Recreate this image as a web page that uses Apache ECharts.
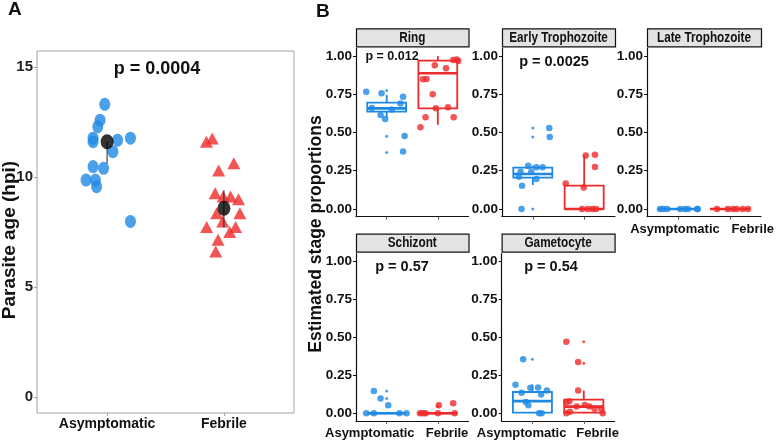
<!DOCTYPE html>
<html><head><meta charset="utf-8">
<script src="https://cdn.jsdelivr.net/npm/echarts@6/dist/echarts.min.js"></script>
<style>html,body{margin:0;padding:0;background:#fff}#c{width:777px;height:442px}</style>
</head><body><div id="c"></div>
<script>
// ---------- DATA ----------
const groups = ['Asymptomatic', 'Febrile'];
const stages = ['Ring', 'Early Trophozoite', 'Late Trophozoite', 'Schizont', 'Gametocyte'];
const pValues = ['p = 0.012', 'p = 0.0025', '', 'p = 0.57', 'p = 0.54'];
const pAge = 'p = 0.0004';
const ageTicks = [0, 5, 10, 15];
const propTicks = [0, 0.25, 0.5, 0.75, 1];

// Panel A: parasite age (hpi), with horizontal jitter offsets
const ageAsymValues = [13.3, 12.58, 12.28, 11.76, 11.6, 11.67, 11.76, 11.15, 10.47, 10.39, 9.86, 9.86, 9.56, 7.98];
const ageAsymJitter = [-0.02, -0.06, -0.08, -0.12, -0.12, 0.09, 0.20, 0.05, -0.12, -0.03, -0.18, -0.10, -0.09, 0.20];
const ageFebValues = [11.6, 11.75, 10.62, 10.29, 9.26, 9.11, 8.99, 9.11, 8.35, 8.35, 7.98, 7.73, 7.73, 7.5, 7.15, 6.62];
const ageFebJitter = [-0.15, -0.10, 0.085, -0.045, -0.075, 0.057, 0.125, -0.006, -0.062, 0.137, -0.01, -0.148, 0.10, 0.05, -0.05, -0.07];
const ageMeans = [11.6, 8.58];
const ageErrLow = [10.6, 7.7];
const ageErrHigh = [11.6, 9.4];

// Panel B: boxes are [lowWhisker, q1, median, q3, highWhisker]
const ringAsymValues = [0.767, 0.756, 0.734, 0.69, 0.66, 0.65, 0.614, 0.588, 0.477, 0.375];
const ringAsymJitter = [-0.40, -0.10, 0.32, 0.27, -0.29, 0.10, -0.12, -0.03, 0.35, 0.32];
const ringAsymOutliers = [0.775, 0.475, 0.37];
const ringAsymBox = [0.60, 0.636, 0.658, 0.695, 0.745];
const ringFebValues = [0.848, 0.85, 0.94, 0.92, 0.974, 0.978, 0.967, 0.75, 0.658, 0.665, 0.60, 0.60, 0.534];
const ringFebJitter = [-0.29, -0.22, -0.06, 0.16, 0.30, 0.37, 0.40, -0.10, -0.04, 0.20, 0.31, -0.24, -0.34];
const ringFebOutliers = [];
const ringFebBox = [0.55, 0.658, 0.887, 0.97, 1.0];

const earlyAsymValues = [0.53, 0.47, 0.0, 0.152, 0.21, 0.283, 0.272, 0.272, 0.244, 0.196, 0.244];
const earlyAsymJitter = [0.32, 0.33, -0.22, -0.21, -0.27, -0.09, 0.07, 0.19, -0.03, 0.07, -0.24];
const earlyAsymOutliers = [0.53, 0.47, 0.0];
const earlyAsymBox = [0.157, 0.205, 0.229, 0.27, 0.283];
const earlyFebValues = [0.167, 0.14, 0.35, 0.355, 0.275, 0, 0, 0, 0];
const earlyFebJitter = [-0.36, -0.01, 0.03, 0.21, 0.21, -0.04, 0.07, 0.16, 0.23];
const earlyFebOutliers = [];
const earlyFebBox = [0, 0, 0, 0.152, 0.35];

const lateAsymValues = [0, 0, 0, 0, 0, 0, 0, 0];
const lateAsymJitter = [-0.35, -0.29, -0.21, 0.04, 0.13, 0.19, 0.37, 0.38];
const lateAsymOutliers = [];
const lateAsymBox = [0, 0, 0, 0, 0];
const lateFebValues = [0, 0, 0, 0, 0, 0];
const lateFebJitter = [-0.25, -0.04, 0.06, 0.13, 0.25, 0.35];
const lateFebOutliers = [0];
const lateFebBox = [0, 0, 0, 0, 0];

const schAsymValues = [0.147, 0.097, 0.053, 0, 0, 0, 0];
const schAsymJitter = [-0.25, -0.12, 0.03, -0.25, 0.25, 0.39, -0.40];
const schAsymOutliers = [0.147, 0.097];
const schAsymBox = [0, 0, 0, 0, 0];
const schFebValues = [0.053, 0.066, 0, 0, 0, 0, 0];
const schFebJitter = [0.02, 0.30, -0.35, -0.29, -0.24, 0.0, 0.33];
const schFebOutliers = [0.045];
const schFebBox = [0, 0, 0, 0, 0];

const gamAsymValues = [0.355, 0.188, 0.168, 0.17, 0.135, 0.053, 0.075, 0.123, 0, 0, 0.15];
const gamAsymJitter = [-0.18, -0.33, -0.04, 0.11, -0.21, -0.08, -0.13, 0.17, 0.13, 0.18, 0.28];
const gamAsymOutliers = [0.355];
const gamAsymBox = [0, 0.005, 0.08, 0.14, 0.19];
const gamFebValues = [0.47, 0.337, 0.15, 0.074, 0.08, 0.044, 0.055, 0.044, 0.03, 0, 0.01, 0.03, 0];
const gamFebJitter = [-0.34, -0.11, -0.11, -0.34, -0.28, -0.14, 0.02, 0.11, 0.21, -0.34, -0.27, 0.34, 0.37];
const gamFebOutliers = [0.47, 0.33];
const gamFebBox = [0, 0.005, 0.044, 0.09, 0.15];

// ---------- STYLE / LAYOUT ----------
const groupColors = ['#1e88e5', '#ee2b2b'];
const FR = '"Liberation Sans", Arial, sans-serif';
const gridA = {left: 37, top: 51, width: 257, height: 362};
const stageGrids = [
  {left: 356, top: 48.4, width: 112.5, height: 168.2},
  {left: 502, top: 48.4, width: 113, height: 168.2},
  {left: 647, top: 48.4, width: 114, height: 168.2},
  {left: 356, top: 253.7, width: 112.5, height: 167.2},
  {left: 501.6, top: 253.7, width: 113, height: 167.2}
];
// label positions (x units) for the x-axis category text; null = no labels
const stageLabelPos = [null, null, [0.94, 2.44], [0.67, 2.18], [0.79, 2.27]];
const pPos = [[392, 57], [554, 62], null, [402, 267], [551, 267]];

const stageData = [
  [ringAsymValues, ringAsymJitter, ringAsymOutliers, ringAsymBox, ringFebValues, ringFebJitter, ringFebOutliers, ringFebBox],
  [earlyAsymValues, earlyAsymJitter, earlyAsymOutliers, earlyAsymBox, earlyFebValues, earlyFebJitter, earlyFebOutliers, earlyFebBox],
  [lateAsymValues, lateAsymJitter, lateAsymOutliers, lateAsymBox, lateFebValues, lateFebJitter, lateFebOutliers, lateFebBox],
  [schAsymValues, schAsymJitter, schAsymOutliers, schAsymBox, schFebValues, schFebJitter, schFebOutliers, schFebBox],
  [gamAsymValues, gamAsymJitter, gamAsymOutliers, gamAsymBox, gamFebValues, gamFebJitter, gamFebOutliers, gamFebBox]
];

const grids = [Object.assign({show: true, borderColor: '#a0a0a0', borderWidth: 1}, gridA)]
  .concat(stageGrids.map(g => Object.assign({}, g)));

const xAxes = [], yAxes = [], series = [], graphics = [];

// Panel A axes
xAxes.push({
  type: 'value', gridIndex: 0, min: 0.4, max: 2.6,
  splitLine: {show: false},
  axisLine: {show: false, onZero: false},
  axisTick: {show: true, customValues: [1, 2], length: 3, lineStyle: {color: '#a0a0a0'}},
  axisLabel: {customValues: [1, 2], formatter: v => groups[Math.round(v) - 1], margin: 4,
    hideOverlap: false, showMinLabel: true, showMaxLabel: true,
    fontFamily: FR, fontWeight: 'bold', fontSize: 14, color: '#111'}
});
yAxes.push({
  type: 'value', gridIndex: 0, min: -0.72, max: 15.72,
  splitLine: {show: false},
  axisLine: {show: false, onZero: false},
  axisTick: {show: true, customValues: ageTicks, length: 3, lineStyle: {color: '#a0a0a0'}},
  axisLabel: {customValues: ageTicks, margin: 4, fontFamily: FR, fontWeight: 'bold', fontSize: 15, color: '#222'}
});

// Panel A series
series.push({
  type: 'scatter', xAxisIndex: 0, yAxisIndex: 0, symbol: 'circle', symbolSize: [11, 13],
  itemStyle: {color: groupColors[0]},
  data: ageAsymValues.map((v, i) => [1 + ageAsymJitter[i], v])
});
series.push({
  type: 'scatter', xAxisIndex: 0, yAxisIndex: 0, symbol: 'triangle', symbolSize: [13, 12],
  itemStyle: {color: groupColors[1]},
  data: ageFebValues.map((v, i) => [2 + ageFebJitter[i], v])
});
series.push({
  type: 'custom', xAxisIndex: 0, yAxisIndex: 0, z: 5,
  data: ageMeans.map((m, i) => [i + 1, ageErrLow[i], ageErrHigh[i]]),
  renderItem: (params, api) => {
    const a = api.coord([api.value(0), api.value(1)]);
    const b = api.coord([api.value(0), api.value(2)]);
    return {type: 'line', shape: {x1: a[0], y1: a[1], x2: b[0], y2: b[1]}, style: {stroke: '#222', lineWidth: 1}};
  }
});
series.push({
  type: 'scatter', xAxisIndex: 0, yAxisIndex: 0, symbol: 'circle', symbolSize: [13, 15], z: 6,
  itemStyle: {color: '#000'},
  data: ageMeans.map((m, i) => [i + 1, m])
});

function renderBox(params, api) {
  const x = api.value(0), lo = api.value(1), q1 = api.value(2), med = api.value(3), q3 = api.value(4), hi = api.value(5);
  const hw = 0.38;
  const c = groupColors[params.dataIndex];
  const tl = api.coord([x - hw, q3]), br = api.coord([x + hw, q1]);
  const m1 = api.coord([x - hw, med]), m2 = api.coord([x + hw, med]);
  const pHi = api.coord([x, hi]), pQ3 = api.coord([x, q3]), pQ1 = api.coord([x, q1]), pLo = api.coord([x, lo]);
  const ls = {stroke: c, lineWidth: 1.8};
  return {type: 'group', children: [
    {type: 'line', shape: {x1: pHi[0], y1: pHi[1], x2: pQ3[0], y2: pQ3[1]}, style: ls},
    {type: 'line', shape: {x1: pQ1[0], y1: pQ1[1], x2: pLo[0], y2: pLo[1]}, style: ls},
    {type: 'rect', shape: {x: tl[0], y: tl[1], width: br[0] - tl[0], height: Math.max(br[1] - tl[1], 0)},
      style: {fill: '#fff', stroke: c, lineWidth: 1.8}},
    {type: 'line', shape: {x1: m1[0], y1: m1[1], x2: m2[0], y2: m2[1]}, style: {stroke: c, lineWidth: 2.6}}
  ]};
}

stageData.forEach((d, s) => {
  const gi = s + 1;
  const lp = stageLabelPos[s];
  xAxes.push({
    type: 'value', gridIndex: gi, min: 0.4, max: 2.6,
    splitLine: {show: false},
    axisLine: {show: true, onZero: false, lineStyle: {color: '#111', width: 1.2}},
    axisTick: {show: true, customValues: [1, 2], length: 3, lineStyle: {color: '#555'}},
    axisLabel: lp ? {customValues: lp, formatter: v => (v < 1.5 ? groups[0] : groups[1]), margin: 6,
      hideOverlap: false, showMinLabel: true, showMaxLabel: true,
      fontFamily: FR, fontWeight: 'bold', fontSize: 13, color: '#111'} : {show: false}
  });
  yAxes.push({
    type: 'value', gridIndex: gi, min: -0.05, max: 1.05,
    splitLine: {show: false},
    axisLine: {show: true, onZero: false, lineStyle: {color: '#111', width: 1.2}},
    axisTick: {show: true, customValues: propTicks, length: 3, lineStyle: {color: '#111'}},
    axisLabel: {customValues: propTicks, formatter: v => v.toFixed(2), margin: 4,
      fontFamily: FR, fontWeight: 'bold', fontSize: 13.5, color: '#111'}
  });
  series.push({
    type: 'custom', xAxisIndex: gi, yAxisIndex: gi, z: 2,
    data: [[1].concat(d[3]), [2].concat(d[7])],
    renderItem: renderBox
  });
  [[d[0], d[1], d[2], 1], [d[4], d[5], d[6], 2]].forEach(([vals, jit, outl, xc], k) => {
    series.push({
      type: 'scatter', xAxisIndex: gi, yAxisIndex: gi, symbol: 'circle', symbolSize: 3, z: 3,
      itemStyle: {color: groupColors[k]},
      data: outl.map(v => [xc, v])
    });
    series.push({
      type: 'scatter', xAxisIndex: gi, yAxisIndex: gi, symbol: 'circle', symbolSize: 6.5, z: 4,
      itemStyle: {color: groupColors[k]},
      data: vals.map((v, i) => [xc + jit[i], v])
    });
  });
  // strip
  const g = stageGrids[s];
  graphics.push({type: 'rect', shape: {x: g.left + 0.5, y: g.top - 19.5, width: g.width, height: 18},
    style: {fill: '#e3e3e3', stroke: '#111', lineWidth: 1.2}});
  graphics.push({type: 'text', x: g.left + g.width / 2, y: g.top - 10.5, scaleX: 0.84,
    style: {text: stages[s], textAlign: 'center', textVerticalAlign: 'middle',
      font: 'bold 14px ' + FR, fill: '#111'}});
  if (pPos[s]) {
    graphics.push({type: 'text', x: pPos[s][0], y: pPos[s][1],
      style: {text: pValues[s], textAlign: 'center', textVerticalAlign: 'middle',
        font: 'bold ' + (s === 0 ? 12.5 : 14.5) + 'px ' + FR, fill: '#111'}});
  }
});

graphics.push({type: 'text', x: 157, y: 69, style: {text: pAge, textAlign: 'center', textVerticalAlign: 'middle',
  font: 'bold 18px ' + FR, fill: '#111'}});
graphics.push({type: 'text', x: 8, y: 10, style: {text: 'A', textAlign: 'left', textVerticalAlign: 'middle',
  font: 'bold 19px ' + FR, fill: '#111'}});
graphics.push({type: 'text', x: 316, y: 12, style: {text: 'B', textAlign: 'left', textVerticalAlign: 'middle',
  font: 'bold 19px ' + FR, fill: '#111'}});
graphics.push({type: 'text', x: 10, y: 240, rotation: Math.PI / 2,
  style: {text: 'Parasite age (hpi)', textAlign: 'center', textVerticalAlign: 'middle',
    font: 'bold 19px ' + FR, fill: '#111'}});
graphics.push({type: 'text', x: 316, y: 234, rotation: Math.PI / 2,
  style: {text: 'Estimated stage proportions', textAlign: 'center', textVerticalAlign: 'middle',
    font: 'bold 17.5px ' + FR, fill: '#111'}});

const chart = echarts.init(document.getElementById('c'), null, {renderer: 'canvas'});
chart.setOption({
  animation: false,
  backgroundColor: '#fff',
  grid: grids,
  xAxis: xAxes,
  yAxis: yAxes,
  series: series,
  graphic: graphics
});
</script>
</body></html>
